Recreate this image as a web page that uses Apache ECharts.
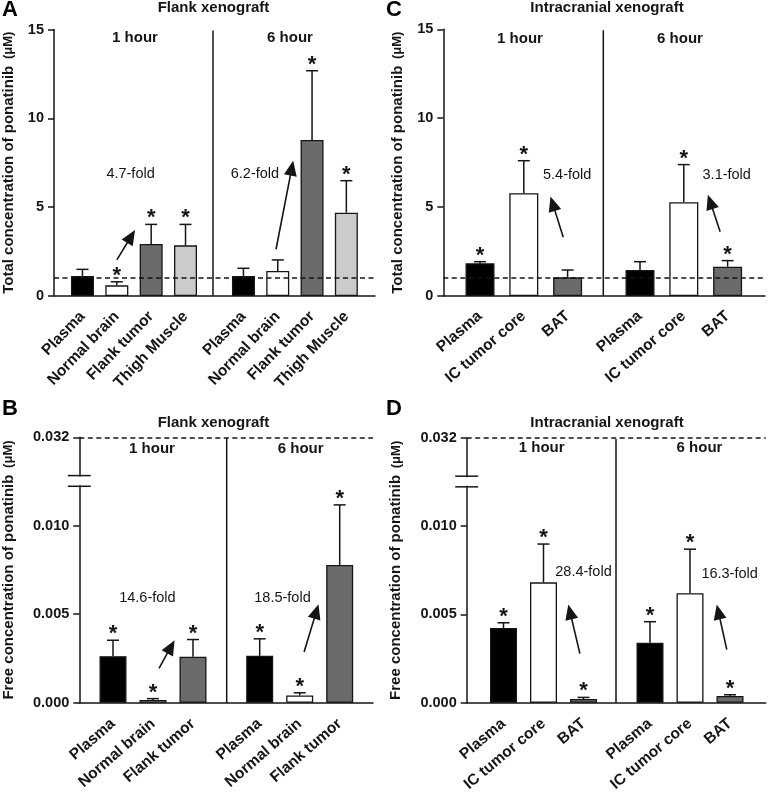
<!DOCTYPE html>
<html>
<head>
<meta charset="utf-8">
<script src="https://cdn.jsdelivr.net/npm/echarts@6/dist/echarts.min.js"></script>
<style>html,body{margin:0;padding:0;background:#fff;}#c{width:770px;height:793px;}</style>
</head>
<body>
<div id="c"></div>
<script>
// ---------------- DATA ----------------
const catsFlankTotal = ['Plasma', 'Normal brain', 'Flank tumor', 'Thigh Muscle'];
const catsFlankFree = ['Plasma', 'Normal brain', 'Flank tumor'];
const catsIC = ['Plasma', 'IC tumor core', 'BAT'];
const hourLabels = ['1 hour', '6 hour'];
const yTicksTotal = ['0', '5', '10', '15'];
const yTicksFree = ['0.000', '0.005', '0.010', '0.032'];

// Panel A: total, flank xenograft
const totalFlank1hMean = [1.13, 0.60, 2.93, 2.85];
const totalFlank1hSD = [0.37, 0.20, 1.10, 1.18];
const totalFlank1hSig = [0, 1, 1, 1];
const totalFlank6hMean = [1.13, 1.41, 8.78, 4.69];
const totalFlank6hSD = [0.43, 0.62, 3.90, 1.80];
const totalFlank6hSig = [0, 0, 1, 1];

// Panel C: total, intracranial xenograft
const totalIC1hMean = [1.84, 5.78, 1.05];
const totalIC1hSD = [0.09, 1.83, 0.41];
const totalIC1hSig = [1, 1, 0];
const totalIC6hMean = [1.46, 5.27, 1.65];
const totalIC6hSD = [0.47, 2.12, 0.34];
const totalIC6hSig = [0, 1, 1];

// Panel B: free, flank xenograft
const freeFlank1hMean = [0.00263, 0.00015, 0.00260];
const freeFlank1hSD = [0.00090, 0.00008, 0.00097];
const freeFlank1hSig = [1, 1, 1];
const freeFlank6hMean = [0.00265, 0.00041, 0.00778];
const freeFlank6hSD = [0.00096, 0.00015, 0.00340];
const freeFlank6hSig = [1, 1, 1];

// Panel D: free, intracranial xenograft
const freeIC1hMean = [0.00423, 0.00682, 0.00021];
const freeIC1hSD = [0.00030, 0.00217, 0.00009];
const freeIC1hSig = [1, 1, 1];
const freeIC6hMean = [0.00340, 0.00620, 0.00038];
const freeIC6hSD = [0.00119, 0.00250, 0.00007];
const freeIC6hSig = [1, 1, 1];

// reference lines
const totalRefLine = 1.0;
const freeTopValue = 0.015; // drawn position of the "0.032" top line (broken axis)

// fold-change annotations: [category position, value] in each hour sub-panel
const foldA = { labels: ['4.7-fold', '6.2-fold'], at: [[1.40, 6.87], [0.335, 6.87]], from: [[1.0, 2.03], [0.95, 2.63]], to: [[1.53, 3.71], [1.45, 7.61]] };
const foldB = { labels: ['14.6-fold', '18.5-fold'], at: [[0.86, 0.00594], [0.57, 0.00594]], from: [[1.15, 0.00194], [1.11, 0.00287]], to: [[1.54, 0.00353], [1.47, 0.00556]] };
const foldC = { labels: ['5.4-fold', '3.1-fold'], at: [[1.99, 6.81], [1.98, 6.81]], from: [[1.90, 3.30], [1.83, 3.62]], to: [[1.61, 5.59], [1.55, 5.69]] };
const foldD = { labels: ['28.4-fold', '16.3-fold'], at: [[2.0, 0.00738], [1.99, 0.00729]], from: [[1.91, 0.00278], [1.92, 0.00301]], to: [[1.62, 0.00556], [1.67, 0.00556]] };

// ---------------- STYLE / LAYOUT ----------------
const FONT = '"Liberation Sans", Arial, Helvetica, sans-serif';
const INK = '#151515';
const colorsFlankTotal = ['#000000', '#ffffff', '#6b6b6b', '#cbcbcb'];
const colorsThree = ['#000000', '#ffffff', '#6b6b6b'];

const panels = [
  { letter: 'A', letterPos: [2, -1], title: 'Flank xenograft', titlePos: [213.5, 7.5], hourPos: [[135, 37.7], [290, 37.7]],
    frame: [54, 29.5, 375, 296], subs: [[65.3, 202.7], [226.3, 363.5]], sep: 213, barW: 23, nameGap: 38, rot: 46, lblMargin: 18,
    yName: 'Total concentration of ponatinib', yMax: 15, yInt: 5, ticks: yTicksTotal, refLine: totalRefLine, brk: false,
    cats: catsFlankTotal, colors: colorsFlankTotal,
    mean: [totalFlank1hMean, totalFlank6hMean], sd: [totalFlank1hSD, totalFlank6hSD], sig: [totalFlank1hSig, totalFlank6hSig], fold: foldA },
  { letter: 'B', letterPos: [2, 398], title: 'Flank xenograft', titlePos: [213.5, 423], hourPos: [[152, 449], [300.7, 449]],
    frame: [79.3, 437.3, 373, 702.7], subs: [[93, 213], [239.7, 359.7]], sep: 226.7, barW: 27, nameGap: 63, rot: 41, lblMargin: 19,
    yName: 'Free concentration of ponatinib', yMax: freeTopValue, yInt: 0.005, ticks: yTicksFree, refLine: freeTopValue, brk: true,
    cats: catsFlankFree, colors: colorsThree,
    mean: [freeFlank1hMean, freeFlank6hMean], sd: [freeFlank1hSD, freeFlank6hSD], sig: [freeFlank1hSig, freeFlank6hSig], fold: foldB },
  { letter: 'C', letterPos: [386, -1], title: 'Intracranial xenograft', titlePos: [607, 8], hourPos: [[520, 39.3], [680, 39.3]],
    frame: [443.3, 29.3, 765, 296], subs: [[458.1, 589.5], [618.1, 749.5]], sep: 603.3, barW: 29, nameGap: 38, rot: 41, lblMargin: 18,
    yName: 'Total concentration of ponatinib', yMax: 15, yInt: 5, ticks: yTicksTotal, refLine: totalRefLine, brk: false,
    cats: catsIC, colors: colorsThree,
    mean: [totalIC1hMean, totalIC6hMean], sd: [totalIC1hSD, totalIC6hSD], sig: [totalIC1hSig, totalIC6hSig], fold: foldC },
  { letter: 'D', letterPos: [386, 398], title: 'Intracranial xenograft', titlePos: [607, 423], hourPos: [[541.7, 447.7], [699.5, 447.7]],
    frame: [466.7, 438, 765.7, 702.7], subs: [[483.5, 603.5], [630, 750]], sep: 616, barW: 27, nameGap: 63, rot: 40, lblMargin: 19,
    yName: 'Free concentration of ponatinib', yMax: freeTopValue, yInt: 0.005, ticks: yTicksFree, refLine: freeTopValue, brk: true,
    cats: catsIC, colors: colorsThree,
    mean: [freeIC1hMean, freeIC6hMean], sd: [freeIC1hSD, freeIC6hSD], sig: [freeIC1hSig, freeIC6hSig], fold: foldD }
];

// ---------------- BUILD ----------------
const chart = echarts.init(document.getElementById('c'), null, { renderer: 'canvas' });

const grid = [], xAxis = [], yAxis = [], series = [], staticGraphic = [];

function errRender(params, api) {
  const i = api.value(0), m = api.value(1), sd = api.value(2), sig = api.value(3);
  const p0 = api.coord([i, m]);
  const p1 = api.coord([i, m + sd]);
  const ch = [
    { type: 'line', shape: { x1: p0[0], y1: p0[1], x2: p1[0], y2: p1[1] }, style: { stroke: INK, lineWidth: 1.5 } },
    { type: 'line', shape: { x1: p1[0] - 6, y1: p1[1], x2: p1[0] + 6, y2: p1[1] }, style: { stroke: INK, lineWidth: 1.5 } }
  ];
  if (sig) {
    ch.push({ type: 'text', style: { text: '*', x: p1[0], y: p1[1] - 6, align: 'center', verticalAlign: 'middle',
      fontSize: 22, fontWeight: 'bold', fontFamily: FONT, fill: INK } });
  }
  return { type: 'group', children: ch };
}

panels.forEach((p, pi) => {
  const [l, t, r, b] = p.frame;
  const fIdx = grid.length;
  p.fIdx = fIdx;
  grid.push({ left: l, top: t, width: r - l, height: b - t, outerBoundsMode: 'none', containLabel: false });
  xAxis.push({ gridIndex: fIdx, type: 'value', min: 0, max: 1, axisLine: { show: true, onZero: false, lineStyle: { color: INK, width: 1.5 } },
    axisTick: { show: false }, axisLabel: { show: false }, splitLine: { show: false } });
  yAxis.push({ gridIndex: fIdx, type: 'value', min: 0, max: p.yMax, interval: p.yInt,
    axisLine: { show: true, lineStyle: { color: INK, width: 1.5 } },
    axisTick: { show: true, length: 6, lineStyle: { color: INK, width: 1.5 } },
    axisLabel: { formatter: (v) => p.ticks[Math.round(v / p.yInt)], fontWeight: 'bold', fontSize: 14.5, fontFamily: FONT, color: INK, margin: 10 },
    splitLine: { show: false },
    name: '{b|' + p.yName + '}  {u|(μM)}', nameLocation: 'middle', nameGap: p.nameGap, nameRotate: 90,
    nameTextStyle: { rich: { b: { fontWeight: 'bold', fontSize: 15, fontFamily: FONT, color: INK }, u: { fontWeight: 'bold', fontSize: 13, fontFamily: FONT, color: INK } } } });
  series.push({ type: 'line', xAxisIndex: fIdx, yAxisIndex: fIdx, data: [], z: 6, silent: true,
    markLine: { silent: true, symbol: 'none', precision: 6, label: { show: false }, animation: false,
      lineStyle: { type: [5, 3.5], color: INK, width: 1.5 }, data: [{ yAxis: p.refLine }] } });

  p.subIdx = [];
  [0, 1].forEach((h) => {
    const [sl, sr] = p.subs[h];
    const gIdx = grid.length;
    p.subIdx.push(gIdx);
    grid.push({ left: sl, top: t, width: sr - sl, height: b - t, outerBoundsMode: 'none', containLabel: false });
    xAxis.push({ gridIndex: gIdx, type: 'category', data: p.cats, axisLine: { show: false }, axisTick: { show: false },
      axisLabel: { interval: 0, rotate: p.rot, fontWeight: 'bold', fontSize: 15.5, fontFamily: FONT, color: INK, margin: p.lblMargin } });
    yAxis.push({ gridIndex: gIdx, type: 'value', min: 0, max: p.yMax, interval: p.yInt, show: false });
    series.push({ type: 'bar', xAxisIndex: gIdx, yAxisIndex: gIdx, barWidth: p.barW, animation: false, z: 2,
      data: p.mean[h].map((v, i) => ({ value: v, itemStyle: { color: p.colors[i], borderColor: INK, borderWidth: 1.3 } })) });
    series.push({ type: 'custom', xAxisIndex: gIdx, yAxisIndex: gIdx, z: 4, animation: false, silent: true,
      renderItem: errRender, clip: false,
      data: p.mean[h].map((v, i) => [i, v, p.sd[h][i], p.sig[h][i]]) });
  });

  // static texts
  staticGraphic.push({ type: 'text', x: p.letterPos[0], y: p.letterPos[1], style: { text: p.letter, fontSize: 22, fontWeight: 'bold', fontFamily: FONT, fill: '#000', verticalAlign: 'top', align: 'left' } });
  staticGraphic.push({ type: 'text', x: p.titlePos[0], y: p.titlePos[1], style: { text: p.title, fontSize: 15, fontWeight: 'bold', fontFamily: FONT, fill: INK, align: 'center', verticalAlign: 'middle' } });
  hourLabels.forEach((hl, h) => {
    staticGraphic.push({ type: 'text', x: p.hourPos[h][0], y: p.hourPos[h][1], style: { text: hl, fontSize: 15, fontWeight: 'bold', fontFamily: FONT, fill: INK, align: 'center', verticalAlign: 'middle' } });
  });
  // group separator
  staticGraphic.push({ type: 'line', shape: { x1: p.sep, y1: t + 1, x2: p.sep, y2: b }, style: { stroke: INK, lineWidth: 1.5 } });
});

chart.setOption({ animation: false, grid, xAxis, yAxis, series, graphic: { elements: staticGraphic } });

// ---------- annotations needing pixel conversion ----------
function catPx(gIdx, c, v) {
  const i0 = Math.floor(c), f = c - i0;
  const a = chart.convertToPixel({ gridIndex: gIdx }, [i0, v]);
  const bb = chart.convertToPixel({ gridIndex: gIdx }, [i0 + 1, v]);
  return [a[0] + (bb[0] - a[0]) * f, a[1]];
}
function arrow(p0, p1) {
  const dx = p1[0] - p0[0], dy = p1[1] - p0[1];
  const L = Math.hypot(dx, dy), ux = dx / L, uy = dy / L;
  const hl = 15, hw = 6.5;
  const bx = p1[0] - ux * hl, by = p1[1] - uy * hl;
  return [
    { type: 'line', shape: { x1: p0[0], y1: p0[1], x2: bx + ux, y2: by + uy }, style: { stroke: INK, lineWidth: 1.6 } },
    { type: 'polygon', shape: { points: [[p1[0], p1[1]], [bx - uy * hw, by + ux * hw], [bx + uy * hw, by - ux * hw]] }, style: { fill: INK } }
  ];
}
const dyn = [];
panels.forEach((p) => {
  [0, 1].forEach((h) => {
    const g = p.subIdx[h];
    const lp = catPx(g, p.fold.at[h][0], p.fold.at[h][1]);
    dyn.push({ type: 'text', x: lp[0], y: lp[1], style: { text: p.fold.labels[h], fontSize: 14.5, fontFamily: FONT, fill: INK, align: 'center', verticalAlign: 'middle' } });
    arrow(catPx(g, p.fold.from[h][0], p.fold.from[h][1]), catPx(g, p.fold.to[h][0], p.fold.to[h][1])).forEach(e => dyn.push(e));
  });
  if (p.brk) {
    const ax = p.frame[0];
    const y1 = chart.convertToPixel({ gridIndex: p.fIdx }, [0, 0.012836])[1];
    const y2 = chart.convertToPixel({ gridIndex: p.fIdx }, [0, 0.012232])[1];
    dyn.push({ type: 'rect', shape: { x: ax - 3, y: y1 + 1, width: 6, height: y2 - y1 - 2 }, style: { fill: '#fff' }, z: 100 });
    dyn.push({ type: 'line', shape: { x1: ax - 11.5, y1: y1, x2: ax + 11.5, y2: y1 }, style: { stroke: INK, lineWidth: 1.5 }, z: 100 });
    dyn.push({ type: 'line', shape: { x1: ax - 11.5, y1: y2, x2: ax + 11.5, y2: y2 }, style: { stroke: INK, lineWidth: 1.5 }, z: 100 });
  }
});
chart.setOption({ graphic: { elements: staticGraphic.concat(dyn) } });
</script>
</body>
</html>
